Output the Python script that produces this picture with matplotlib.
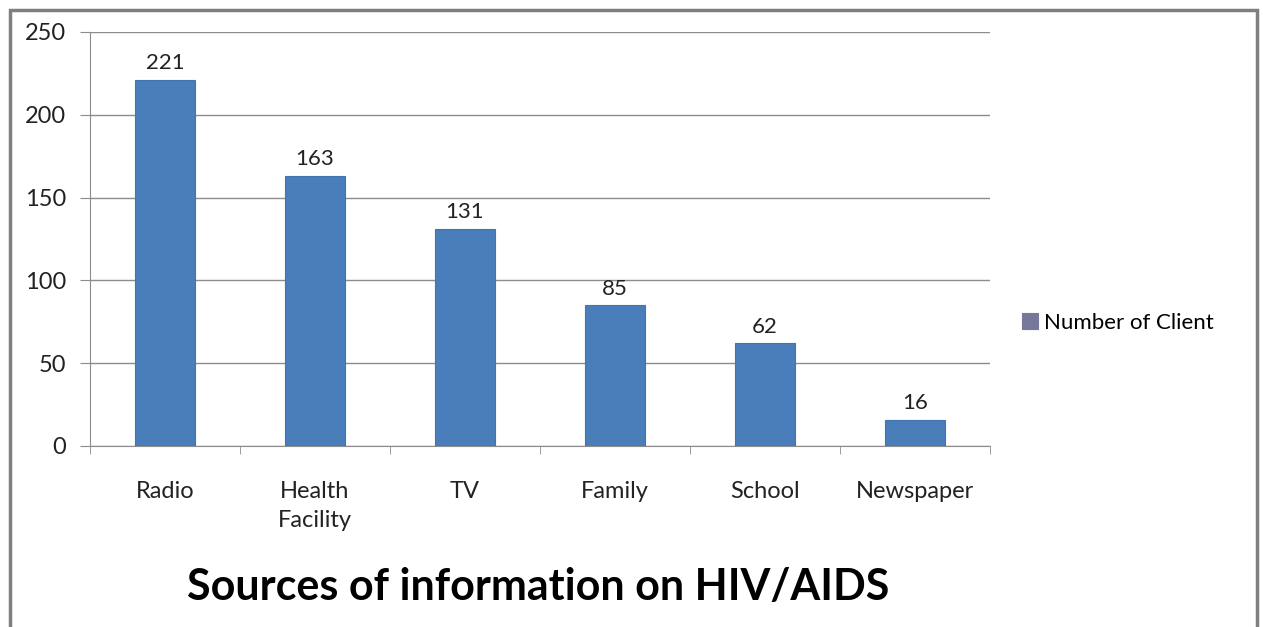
import numpy as np
import matplotlib.pyplot as plt
from matplotlib.patches import Rectangle

# data
sources = ['Radio', 'Health\nFacility', 'TV', 'Family', 'School', 'Newspaper']
clients = [221, 163, 131, 85, 62, 16]
y_ticks = [0, 50, 100, 150, 200, 250]

plt.rcParams['font.family'] = ['Lato', 'DejaVu Sans']

fig = plt.figure(figsize=(12.63, 6.27), dpi=100)
ax = fig.add_axes([90 / 1263, 181 / 627, 900 / 1263, 414 / 627])

x = np.arange(len(sources))
bars = ax.bar(x, clients, width=0.4, color='#4a7ebb', edgecolor='#4374b0',
              linewidth=0.8, zorder=3, label='Number of Client')

for b, v in zip(bars, clients):
    ax.text(b.get_x() + b.get_width() / 2, v + 4, str(v), ha='center', va='bottom',
            fontsize=16, color='#222222')

ax.set_xlim(-0.5, len(sources) - 0.5)
ax.set_ylim(0, 250)
ax.set_yticks(y_ticks)
ax.set_yticklabels([str(t) for t in y_ticks], fontsize=17, color='#222222')
ax.yaxis.grid(True, color='#8c8c8c', linewidth=1.0, zorder=0)

ax.set_xticks(x)
ax.set_xticklabels(sources, fontsize=17, color='#222222', linespacing=1.5)
ax.tick_params(axis='x', length=0, pad=25)
ax.set_xticks(np.arange(len(sources) + 1) - 0.5, minor=True)
ax.tick_params(axis='x', which='minor', length=6, color='#8c8c8c', direction='out')
ax.tick_params(axis='y', length=7, color='#8c8c8c', pad=10)

for s in ['top', 'right']:
    ax.spines[s].set_visible(False)
for s in ['left', 'bottom']:
    ax.spines[s].set_color('#8c8c8c')

leg = ax.legend(loc='center left', bbox_to_anchor=(1002 / 1263, 304 / 627),
                bbox_transform=fig.transFigure, frameon=False, fontsize=16,
                handlelength=0.7, handleheight=0.7, handletextpad=0.3)
for h in leg.legend_handles:
    h.set_color('#77779a')
    h.set_edgecolor('#77779a')

fig.text(538 / 1263, 1 - 587 / 627, 'Sources of information on HIV/AIDS', ha='center',
         va='center', fontsize=31, fontweight='bold', color='black')

# outer grey frame
fig.patches.append(Rectangle((10 / 1263, -0.05), 1247 / 1263, 1.05 - 10 / 627,
                             transform=fig.transFigure, fill=False,
                             edgecolor='#7f7f7f', linewidth=2.5))

fig.savefig('out.png', dpi=100)
